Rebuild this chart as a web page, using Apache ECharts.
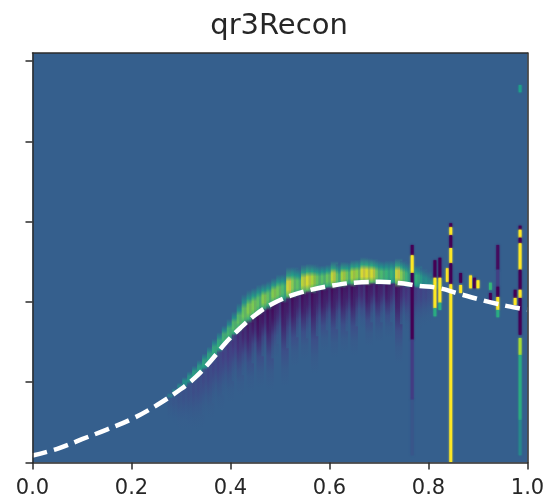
<!DOCTYPE html>
<html><head><meta charset="utf-8">
<script src="https://cdn.jsdelivr.net/npm/echarts@6/dist/echarts.min.js"></script>
<style>html,body{margin:0;padding:0;background:#fff}#c{width:551px;height:503px}</style></head>
<body><div id="c"></div>
<script>
// White dashed curve
const curveX=[0,.05,.10,.15,.20,.25,.30,.33,.36,.39,.42,.45,.48,.52,.56,.60,.65,.70,.74,.78,.82,.86,.90,.94,.98,1];
const curveV=[.087,.17,.29,.41,.54,.71,.915,1.065,1.264,1.488,1.675,1.837,1.961,2.074,2.148,2.198,2.24,2.25,2.235,2.20,2.173,2.105,2.036,1.974,1.924,1.905];
// Ridge columns from x = 0.28 on: height above the curve and its strength, depth below the curve and its strength
const colX=[.28,.29,.30,.31,.32,.33,.34,.35,.36,.37,.38,.39,.40,.41,.42,.43,.44,.45,.46,.47,.48,.49,.50,.51,.52,.53,.54,.55,.56,.57,.58,.59,.60,.61,.62,.63,.64,.65,.66,.67,.68,.69,.70,.71,.72,.73,.74,.75,.76,.77,.78,.79,.80,.81,.82];
const colBase=[.816,.866,.915,.965,1.015,1.065,1.127,1.189,1.264,1.339,1.413,1.488,1.55,1.613,1.675,1.737,1.787,1.837,1.887,1.924,1.961,1.999,2.024,2.049,2.074,2.098,2.111,2.136,2.148,2.161,2.173,2.186,2.198,2.21,2.21,2.223,2.235,2.235,2.248,2.248,2.248,2.248,2.248,2.248,2.248,2.248,2.235,2.223,2.21,2.21,2.198,2.198,2.186,2.173,2.173];
const upHeight=[.05,.06,.08,.10,.12,.14,.15,.17,.18,.20,.21,.22,.24,.27,.31,.36,.36,.34,.33,.31,.30,.30,.32,.30,.36,.34,.30,.33,.33,.31,.28,.27,.27,.30,.26,.28,.26,.29,.28,.31,.30,.29,.27,.26,.27,.27,.31,.29,.28,.24,.26,.22,.20,.15,.10];
const upLevel=[.25,.3,.35,.4,.45,.5,.5,.55,.55,.6,.6,.65,.65,.7,.72,.76,.8,.78,.7,.82,.7,.82,.75,.65,1,.75,.7,.95,.95,.85,.7,.7,.75,.95,.65,.9,.7,.9,.8,1,.95,.95,.7,.65,.6,.6,1,.75,.55,.5,.6,.35,.3,.3,.2];
const downDepth=[.3,.4,.5,.55,.6,.65,.7,.6,.72,.6,.76,.65,.8,.6,.85,.65,.9,.6,.95,.6,1.05,.7,.55,1.1,.65,.9,.55,.85,.6,1.05,.6,.8,.55,.9,.55,.85,.6,.9,.55,.6,.8,.5,.75,.5,.7,.5,1,.5,.6,.5,.55,.5,.45,.4,.35];
const downLevel=[.12,.15,.2,.22,.25,.3,.32,.35,.38,.42,.45,.5,.55,.6,.7,.8,.85,.9,1,.9,1,1,.75,1,.85,1,.8,1,.85,1,.8,1,.85,1,.8,1,.85,1,.8,.75,1,.8,.95,.75,.95,.7,1,.65,.6,.5,.45,.4,.35,.25,.15];
// Narrow spikes: x, top, bottom, level (-1 dark, 0 background, 1 bright)
const spikes=[
[.767,2.71,2.58,-1],[.767,2.58,2.36,1],[.767,2.36,1.53,-1],[.767,1.53,.78,-.45],[.767,.78,.09,-.12],
[.813,2.52,2.30,-1],[.813,2.30,1.92,1],[.813,1.92,1.82,.5],
[.823,2.55,2.30,-1],[.823,2.30,1.99,1],[.823,1.99,1.90,.5],
[.838,2.42,2.25,1],
[.845,2.98,2.93,-1],[.845,2.93,2.83,1],[.845,2.83,2.67,-1],[.845,2.67,2.48,1],[.845,2.48,2.22,-1],[.845,2.22,0,1],
[.865,2.36,2.24,-1],[.865,2.21,2.11,1],
[.885,2.33,2.17,1],[.893,2.30,2.17,-1],[.90,2.27,2.17,1],
[.925,2.24,2.15,.6],[.925,2.11,2.0,-1],
[.94,2.71,2.40,-.9],[.94,2.40,2.19,-.4],[.94,2.19,2.06,-1],[.94,2.06,1.90,1],[.94,1.90,1.81,.5],
[.975,2.15,2.05,-1],[.975,2.05,1.96,1],
[.985,4.70,4.61,.4],[.985,2.95,2.90,-1],[.985,2.90,2.80,1],[.985,2.80,2.73,-1],[.985,2.73,2.40,1],[.985,2.40,2.15,-1],[.985,2.15,2.05,1],[.985,2.05,1.59,-1],[.985,1.55,1.34,.85],[.985,1.34,.53,.5],[.985,.53,.09,.25]
];
const xTicks=[0,.2,.4,.6,.8,1];
const yTicks=[0,1,2,3,4,5];
const titleText='qr3Recon';

const BG=[53,95,141];
const ramp=[[-1,[68,1,84]],[-.5,[69,56,130]],[0,BG],[.4,[31,158,137]],[.6,[53,183,121]],[.75,[110,206,88]],[.88,[181,222,43]],[1,[253,231,37]]];
function col(l){
  for(let i=1;i<ramp.length;i++){
    if(l<=ramp[i][0]){
      const a=ramp[i-1],b=ramp[i],t=(l-a[0])/(b[0]-a[0]);
      return 'rgb('+a[1].map((v,k)=>Math.round(v+(b[1][k]-v)*t)).join(',')+')';
    }
  }
  return 'rgb(253,231,37)';
}
const colData=colX.map((x,i)=>[x,colBase[i],upHeight[i],upLevel[i],downDepth[i],downLevel[i]]);
const chart=echarts.init(document.getElementById('c'),null,{renderer:'canvas'});
const spine={show:true,onZero:false,lineStyle:{color:'#2b2b2b',width:1.5}};
chart.setOption({
  animation:false,
  backgroundColor:'#fff',
  title:{text:titleText,left:279,top:12,padding:0,textAlign:'center',textStyle:{fontFamily:'DejaVu Sans',fontSize:29,fontWeight:'normal',color:'#262626'}},
  grid:{left:32.5,right:23.5,top:53,bottom:40.5,show:true,backgroundColor:'rgb(53,95,141)',borderWidth:0},
  xAxis:[{type:'value',min:0,max:1,interval:.2,z:10,splitLine:{show:false},axisLine:spine,
    axisTick:{show:true,length:7,customValues:xTicks,lineStyle:{color:'#2b2b2b',width:1.5}},
    axisLabel:{fontFamily:'DejaVu Sans',fontSize:21,color:'#262626',margin:16,customValues:xTicks,formatter:v=>v.toFixed(1)}},
    {type:'value',position:'top',min:0,max:1,z:10,splitLine:{show:false},axisLine:spine,axisTick:{show:false},axisLabel:{show:false}}],
  yAxis:[{type:'value',min:0,max:5.1,interval:1,z:10,splitLine:{show:false},axisLine:spine,
    axisTick:{show:true,length:7,customValues:yTicks,lineStyle:{color:'#2b2b2b',width:1.5}},axisLabel:{show:false}},
    {type:'value',position:'right',min:0,max:5.1,z:10,splitLine:{show:false},axisLine:spine,axisTick:{show:false},axisLabel:{show:false}}],
  series:[
    {type:'custom',coordinateSystem:'cartesian2d',z:2,clip:true,data:colData,silent:true,
     renderItem:(p,api)=>{
       const x=api.value(0),base=api.value(1),uh=api.value(2),ul=api.value(3),dd=api.value(4),dl=api.value(5);
       const tl=api.coord([x-.0075,base+uh]),br=api.coord([x+.0075,base-dd]);
       const h=br[1]-tl[1],cy=api.coord([x,base])[1],f=(cy-tl[1])/h;
       return {type:'rect',shape:{x:tl[0],y:tl[1],width:br[0]-tl[0],height:h},
         style:{opacity:.72,fill:new echarts.graphic.LinearGradient(0,0,0,1,[
           {offset:0,color:col(0)},
           {offset:f*.3,color:col(ul*.55)},
           {offset:f*.5,color:col(ul)},
           {offset:f*.78,color:col(ul)},
           {offset:f,color:col(ul*.75)},
           {offset:f+(1-f)*.06,color:col(-dl)},
           {offset:f+(1-f)*.3,color:col(-dl*.85)},
           {offset:f+(1-f)*.6,color:col(-dl*.3)},
           {offset:f+(1-f)*.8,color:col(-dl*.08)},
           {offset:1,color:col(0)}])}};
     },encode:{x:0,y:1}},
    {type:'custom',coordinateSystem:'cartesian2d',z:3,clip:true,data:spikes,silent:true,
     renderItem:(p,api)=>{
       const x=api.value(0),a=api.coord([x-.0028,api.value(1)]),b=api.coord([x+.0028,api.value(2)]),c=col(api.value(3));
       return {type:'rect',shape:{x:a[0],y:a[1],width:b[0]-a[0],height:b[1]-a[1]},style:{fill:c,shadowBlur:2,shadowColor:c}};
     },encode:{x:0,y:[1,2]}},
    {type:'line',z:4,data:curveX.map((x,i)=>[x,curveV[i]]),showSymbol:false,smooth:.4,silent:true,
     lineStyle:{color:'#fff',width:4.5,type:[15,7],cap:'butt'}}
  ]
});
</script></body></html>
